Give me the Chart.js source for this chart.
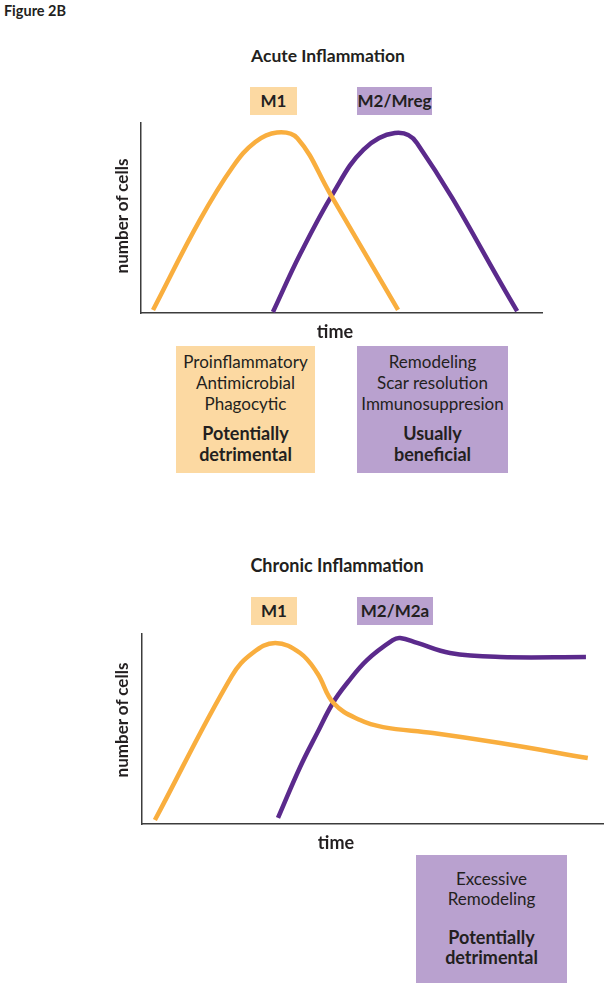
<!DOCTYPE html>
<html>
<head>
<meta charset="utf-8">
<script src="https://cdn.jsdelivr.net/npm/chart.js@4.4.0/dist/chart.umd.min.js"></script>
<style>
  body { margin: 0; background: #fff; }
  #page { position: relative; width: 609px; height: 989px; overflow: hidden; font-family: Lato, "Open Sans", sans-serif; color: #231f20; }
  .txt { position: absolute; white-space: nowrap; line-height: 1; transform: translate(-50%, -50%); }
  .bold { font-weight: 700; }
  .tag { position: absolute; height: 28px; line-height: 28px; text-align: center; font-weight: 700; font-size: 17px; }
  .box { position: absolute; text-align: center; font-size: 17px; }
  .box div { height: 21px; line-height: 21px; }
  .box div.bold { font-size: 18px; }
  .orange { background: #fcd9a2; }
  .purple { background: #b9a1cf; }
  .chart { position: absolute; }
</style>
</head>
<body>
<div id="page">
  <div class="txt bold" style="left:35px; top:11px; font-size:14.5px;">Figure 2B</div>

  <!-- acute -->
  <div class="txt bold" style="left:328px; top:56px; font-size:17.5px;">Acute Inflammation</div>
  <div class="tag orange" style="left:250px; top:87px; width:47px;">M1</div>
  <div class="tag purple" style="left:357px; top:87px; width:75px;">M2/Mreg</div>
  <div class="chart" style="left:131px; top:113px;"><canvas id="acute-chart" width="421" height="210"></canvas></div>
  <div class="txt bold" style="left:121px; top:216px; font-size:17px; transform: translate(-50%, -50%) rotate(-90deg);">number of cells</div>
  <div class="txt bold" style="left:335px; top:331px; font-size:18px;">time</div>
  <div class="box orange" style="left:176px; top:346px; width:139px; height:127px; padding-top:5px; box-sizing:border-box;">
    <div>Proinflammatory</div><div>Antimicrobial</div><div>Phagocytic</div>
    <div style="height:9px"></div>
    <div class="bold">Potentially</div><div class="bold">detrimental</div>
  </div>
  <div class="box purple" style="left:357px; top:346px; width:151px; height:127px; padding-top:5px; box-sizing:border-box;">
    <div>Remodeling</div><div>Scar resolution</div><div>Immunosuppresion</div>
    <div style="height:9px"></div>
    <div class="bold">Usually</div><div class="bold">beneficial</div>
  </div>

  <!-- chronic -->
  <div class="txt bold" style="left:337px; top:565px; font-size:18px;">Chronic Inflammation</div>
  <div class="tag orange" style="left:251px; top:597px; width:46px;">M1</div>
  <div class="tag purple" style="left:357px; top:597px; width:76px;">M2/M2a</div>
  <div class="chart" style="left:132px; top:624px;"><canvas id="chronic-chart" width="476" height="210"></canvas></div>
  <div class="txt bold" style="left:121px; top:720px; font-size:17px; transform: translate(-50%, -50%) rotate(-90deg);">number of cells</div>
  <div class="txt bold" style="left:336px; top:842px; font-size:18px;">time</div>
  <div class="box purple" style="left:416px; top:855px; width:151px; height:128px; padding-top:14px; box-sizing:border-box;">
    <div style="height:20px; line-height:20px">Excessive</div><div style="height:20px; line-height:20px">Remodeling</div>
    <div style="height:18px"></div>
    <div class="bold" style="height:20px; line-height:20px">Potentially</div><div class="bold" style="height:20px; line-height:20px">detrimental</div>
  </div>
</div>

<script>
// acute inflammation, time and number of cells (0-100, arbitrary units)
const acuteM1Time = [3, 14.7, 22.9, 28.5, 33.9, 39, 47.1, 64.1];
const acuteM1Cells = [1.6, 49, 77, 90, 95, 92, 63, 1.6];
const acuteM2Time = [32.9, 39.7, 47.9, 55.5, 63.3, 68.8, 93.8];
const acuteM2Cells = [0.5, 31, 63, 86, 94.7, 89.5, 1];

// chronic inflammation
const chronicM1Time = [2.8, 19.5, 24, 28.9, 34.3, 38, 41.6, 47.3, 52.3, 63.1, 77.7, 96.7];
const chronicM1Cells = [2.1, 78, 90, 95.3, 90, 79.5, 63.5, 54.7, 51, 47.9, 42.6, 34.7];
const chronicM2Time = [29.5, 34.3, 38, 41.4, 44.5, 48.8, 54.4, 56, 59.7, 66.8, 77.7, 96.3];
const chronicM2Cells = [3.2, 30, 47.9, 63.7, 74.2, 86.3, 96.8, 97.9, 95.3, 90, 87.9, 87.9];

const orange = "#f9ae3e";
const purple = "#5b2a8c";

function toPoints(xs, ys) {
  return xs.map((x, i) => ({ x: x, y: ys[i] }));
}

function lineSet(label, xs, ys, color) {
  return {
    label: label,
    data: toPoints(xs, ys),
    borderColor: color,
    backgroundColor: color,
    borderWidth: 4.5,
    borderCapStyle: "butt",
    borderJoinStyle: "round",
    pointRadius: 0,
    tension: 0.4,
    fill: false,
  };
}

function axis() {
  return {
    type: "linear",
    min: 0,
    max: 100,
    grid: { display: false, drawTicks: false },
    ticks: { display: false },
    border: { display: true, color: "#3c3c3c", width: 1.5 },
  };
}

function makeChart(id, datasets, pad) {
  new Chart(document.querySelector(id).getContext("2d"), {
    type: "line",
    data: { datasets: datasets },
    options: {
      responsive: false,
      animation: false,
      layout: { padding: pad },
      plugins: { legend: { display: false }, tooltip: { enabled: false } },
      scales: { x: axis(), y: axis() },
    },
  });
}

makeChart("#acute-chart", [
  lineSet("M1", acuteM1Time, acuteM1Cells, orange),
  lineSet("M2/Mreg", acuteM2Time, acuteM2Cells, purple),
], { left: 10, right: 10, top: 10, bottom: 10 });

makeChart("#chronic-chart", [
  lineSet("M1", chronicM1Time, chronicM1Cells, orange),
  lineSet("M2/M2a", chronicM2Time, chronicM2Cells, purple),
], { left: 10, right: 5, top: 10, bottom: 10 });
</script>
</body>
</html>
